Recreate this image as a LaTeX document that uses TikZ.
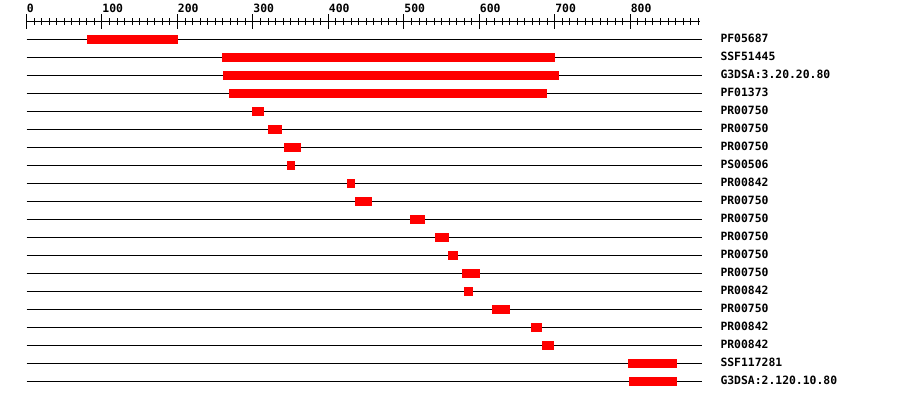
\documentclass[tikz,border=0pt]{standalone}
\usepackage{fontspec}
\setmonofont{DejaVu Sans Mono}
\begin{document}
\begin{tikzpicture}[x=1pt,y=-1pt,line width=1pt,
  lbl/.style={font=\ttfamily\bfseries\fontsize{11.4}{12}\selectfont,inner sep=0pt,anchor=base west},
  barbox/.style={fill=red,draw=none},
  track/.style={draw=black,line width=1pt},
  axisline/.style={draw=black,line width=1pt}]
\useasboundingbox (0,0) rectangle (900,400);
% axis
\coordinate (a0) at (26.5,21.3);
\coordinate (a1) at (700,21.3);
\draw[axisline] (a0) -- (a1);
\foreach \i in {0,...,89}{
  \pgfmathsetmacro\xx{26.5+0.7548*\i*10}
  \draw[axisline] (\xx,18.3) -- (\xx,24.7);
}
\foreach \v in {0,100,...,800}{
  \pgfmathsetmacro\xx{26.5+0.7548*\v}
  \draw[axisline] (\xx,14.3) -- (\xx,29);
  \node[lbl] (t\v) at (\xx,12) {\v};
}
% tracks
\foreach \n/\lab/\xa/\xb in {
  1/PF05687/87/177.7,
  2/SSF51445/222/555,
  3/G3DSA:3.20.20.80/223/559,
  4/PF01373/229/547,
  5/PR00750/252/264,
  6/PR00750/268/282,
  7/PR00750/284/301,
  8/PS00506/287/295,
  9/PR00842/347/355,
  10/PR00750/355/372,
  11/PR00750/410/425,
  12/PR00750/435/449,
  13/PR00750/448/458,
  14/PR00750/462/480,
  15/PR00842/464/473,
  16/PR00750/492/510,
  17/PR00842/531/542,
  18/PR00842/542/554,
  19/SSF117281/628/677,
  20/G3DSA:2.120.10.80/629/677}{
  \pgfmathsetmacro\yy{39.3+18*(\n-1)}
  \coordinate (s\n) at (26.5,\yy);
  \coordinate (e\n) at (701.7,\yy);
  \draw[track] (s\n) -- (e\n);
  \fill[barbox] (\xa,\yy-4.5) rectangle (\xb,\yy+4.5);
  \node[lbl] (l\n) at (720,\yy+3.6) {\lab};
}
\end{tikzpicture}
\end{document}
